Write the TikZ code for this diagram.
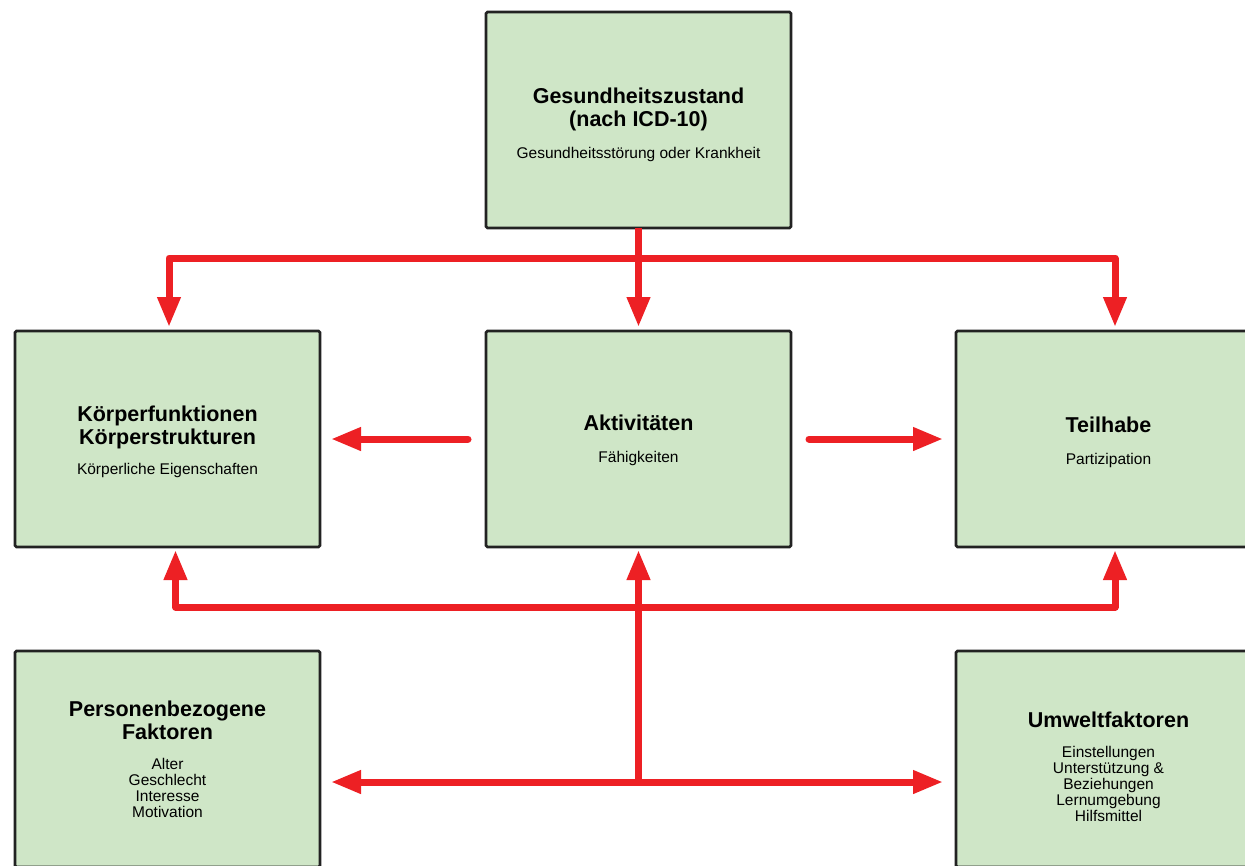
\documentclass[tikz,border=0pt]{standalone}
\usepackage{fontspec}
\setmainfont{Liberation Sans}
\usetikzlibrary{arrows.meta,calc}
\definecolor{boxgreen}{RGB}{207,230,199}
\definecolor{arrred}{RGB}{237,32,36}
\definecolor{boxline}{RGB}{34,34,34}
\begin{document}
\begin{tikzpicture}[x=1pt,y=-1pt,
  box/.style={draw=boxline, line width=2.6pt, fill=boxgreen, rounded corners=1.5pt,
    minimum width=305pt, minimum height=216pt, inner sep=0pt, outer sep=0pt, anchor=north west},
  ttl/.style={font=\fontsize{21.5}{22.5}\selectfont\bfseries, align=center, inner sep=0pt, anchor=base},
  sub/.style={font=\fontsize{15.5}{15.8}\selectfont, align=center, inner sep=0pt, anchor=base},
  link/.style={draw=arrred, line width=7pt, line join=round},
  tip/.style={-{Triangle[length=30pt,width=22pt]}},
]
\clip (0,0) rectangle (1245,865);
\fill[white] (0,0) rectangle (1245,865);

% boxes
\node[box] (gz)  at (486,12)  {};
\node[box] (kf)  at (15,331)  {};
\node[box] (akt) at (486,331) {};
\node[box] (th)  at (956,331) {};
\node[box] (pf)  at (15,651)  {};
\node[box] (uf)  at (956,651) {};

% texts (anchor base = baseline of the last line)
\node[ttl] (gzt) at (638.5,126) {Gesundheitszustand\\(nach ICD-10)};
\node[sub] (gzs) at (638.5,158) {Gesundheitsstörung oder Krankheit};
\node[ttl] (kft) at (167.5,444) {Körperfunktionen\\Körperstrukturen};
\node[sub] (kfs) at (167.5,474) {Körperliche Eigenschaften};
\node[ttl] (aktt) at (638.5,430) {Aktivitäten};
\node[sub] (akts) at (638.5,462) {Fähigkeiten};
\node[ttl] (tht) at (1108.5,432) {Teilhabe};
\node[sub] (ths) at (1108.5,464) {Partizipation};
\node[ttl] (pft) at (167.5,739) {Personenbezogene\\Faktoren};
\node[sub] (pfs) at (167.5,817) {Alter\\Geschlecht\\Interesse\\Motivation};
\node[ttl] (uft) at (1108.5,727) {Umweltfaktoren};
\node[sub] (ufs) at (1108.5,821) {Einstellungen\\Unterstützung \&\\Beziehungen\\Lernumgebung\\Hilfsmittel};

% junctions
\coordinate (top)  at (gz.south |- 0,258);
\coordinate (bj)   at (gz.south |- 0,607);
\coordinate (lowj) at (gz.south |- 0,782);

% upper tree
\draw[link] (gz.south) -- (top);
\draw[link,tip] (top) -| ($(kf.north)+(1.5,-4)$);
\draw[link,tip] (top) -- ($(akt.north)+(0,-4)$);
\draw[link,tip] (top) -| ($(th.north)+(6.5,-4)$);

% side arrows
\draw[link,tip,line cap=round] ($(akt.west)+(-18,0)$) -- ($(kf.east)+(11,0)$);
\draw[link,tip,line cap=round] ($(akt.east)+(18,0)$) -- ($(th.west)+(-13,0)$);

% lower tree
\draw[link,tip] (lowj) -- ($(akt.south)+(0,3)$);
\draw[link,tip] (bj) -| ($(kf.south)+(8,3)$);
\draw[link,tip] (bj) -| ($(th.south)+(6.5,3)$);
\draw[link,tip] (lowj) -- ($(lowj -| pf.east)+(11,0)$);
\draw[link,tip] (lowj) -- ($(lowj -| uf.west)+(-13,0)$);
\end{tikzpicture}
\end{document}
